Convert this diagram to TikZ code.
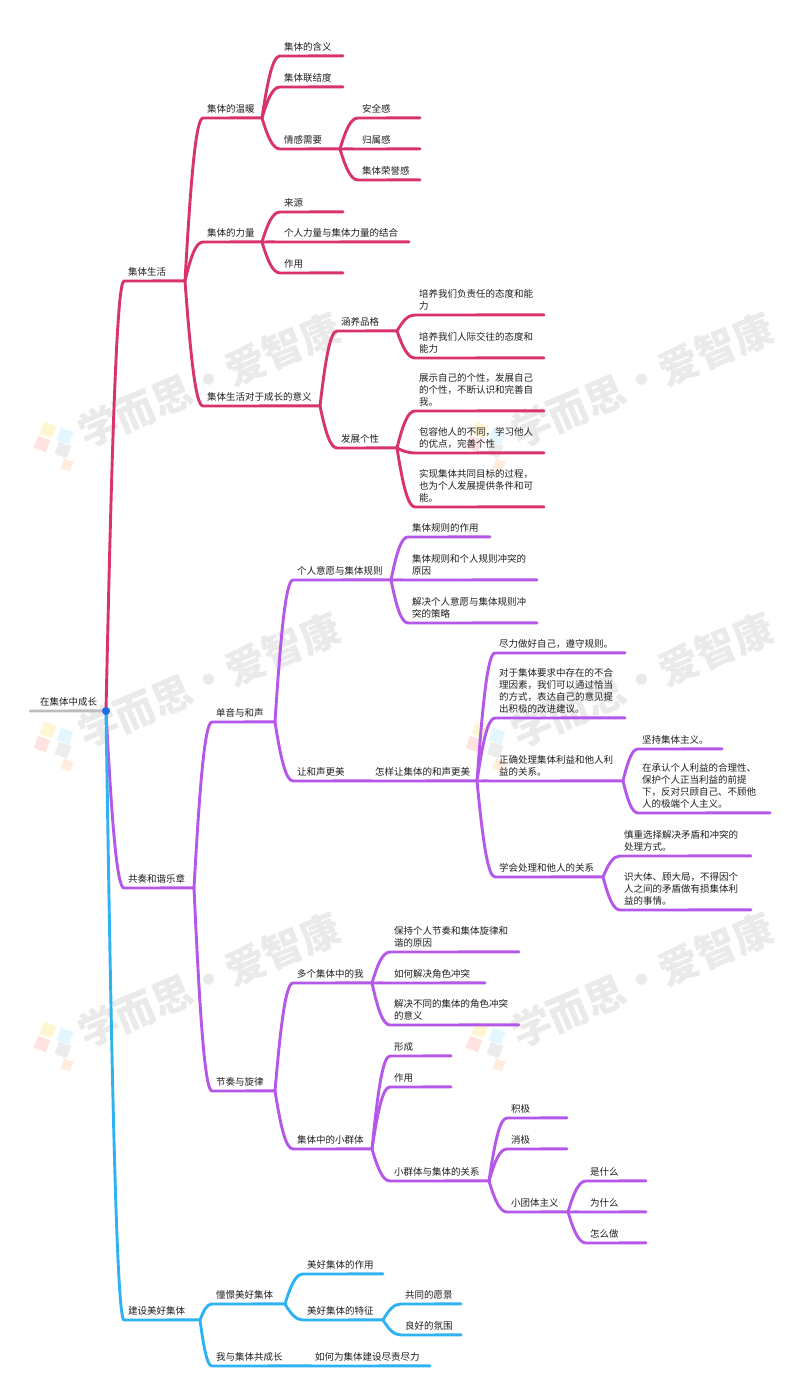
\documentclass[tikz,border=0pt]{standalone}
\usepackage{fontspec}
\setmainfont{Noto Sans CJK SC}
\usetikzlibrary{calc}
\lineskiplimit=-20pt
\normallineskiplimit=-20pt
\definecolor{redc}{HTML}{D8326F}
\definecolor{purc}{HTML}{B557E8}
\definecolor{bluc}{HTML}{2FB2F2}
\definecolor{rootc}{HTML}{BDBDBD}
\definecolor{dotc}{HTML}{1F6FE0}
\definecolor{wmc}{HTML}{EAEAEA}
\tikzset{
  lab/.style={inner xsep=4pt,inner ysep=4.5pt,outer sep=0pt,align=left,text=black!88,
    font=\fontsize{9.5}{12}\selectfont},
  cred/.style={color=redc,line width=2.9pt,line cap=round,line join=round},
  cpur/.style={color=purc,line width=2.9pt,line cap=round,line join=round},
  cblu/.style={color=bluc,line width=2.9pt,line cap=round,line join=round},
  cgry/.style={color=rootc,line width=2.9pt,line cap=round,line join=round},
  wm/.style={text=wmc,font=\fontsize{40}{40}\selectfont\bfseries,rotate=23,inner sep=0pt},
  sq/.style={rotate=-20,minimum size=13pt,inner sep=0pt,opacity=.18}
}
\newcommand\bn[7]{%
  \pgfmathsetmacro\bnw{#5-#4-8}%
  \node[lab,text width=\bnw pt,anchor=south west] (#3) at (#4,#6) {#7};
  \draw[#1] let \p1=(#2.south east),\p2=(#3.south west) in
    (\p1) .. controls ({\x1+.32*(\x2-\x1)},{\y1+.62*(\y2-\y1)+.1pt}) and ({\x1+.6*(\x2-\x1)},{\y2+.1pt}) .. (\p2) -- ($(#3.south east)+(0,.12pt)$);
}
\begin{document}
\begin{tikzpicture}[x=1pt,y=-1pt]
\useasboundingbox (0,0) rectangle (800,1398);
\fill[white] (0,0) rectangle (800,1398);
% watermarks
\foreach \cx/\lx in {209/48,642/480}{
  \foreach \cy/\ly in {380/430,680/730,980/1030}{
    \node[wm] (wm\cx\cy) at (\cx,\cy) {学而思·爱智康};
    \node[sq,fill=yellow!70!orange] (sa\cx\cy) at (\lx,\ly) {};
    \node[sq,fill=cyan!60] (sb\cx\cy) at (\lx+17,\ly+6) {};
    \node[sq,fill=red!60] (sc\cx\cy) at (\lx-6,\ly+14) {};
    \node[sq,fill=gray!80] (sd\cx\cy) at (\lx+15,\ly+20) {};
    \node[sq,fill=orange!80,minimum size=10pt] (se\cx\cy) at (\lx+19,\ly+35) {};
  }
}
% root
\node[lab,inner xsep=10pt,text width=56pt,anchor=south west] (root) at (30,711) {在集体中成长};
\draw[cgry] (root.south west) -- ($(root.south east)+(0,.12pt)$);
% level 1 purple first so that blue lies over it
\bn{cred}{root}{shjt}{124}{185}{281}{集体生活}
\bn{cpur}{root}{gzhx}{124}{194}{888}{共奏和谐乐章}
\bn{cblu}{root}{jsmh}{124}{200}{1320}{建设美好集体}
% red branch
\bn{cred}{shjt}{wn}{203}{262}{118}{集体的温暖}
\bn{cred}{wn}{hy}{280}{343}{56}{集体的含义}
\bn{cred}{wn}{ljd}{280}{343}{87}{集体联结度}
\bn{cred}{wn}{qg}{280}{340}{149}{情感需要}
\bn{cred}{qg}{aq}{358}{420}{118}{安全感}
\bn{cred}{qg}{gs}{358}{420}{149}{归属感}
\bn{cred}{qg}{ry}{358}{420}{180}{集体荣誉感}
\bn{cred}{shjt}{ll}{203}{262}{242}{集体的力量}
\bn{cred}{ll}{ly}{280}{343}{212}{来源}
\bn{cred}{ll}{gr}{280}{409}{242}{个人力量与集体力量的结合}
\bn{cred}{ll}{zy}{280}{343}{273}{作用}
\bn{cred}{shjt}{yy}{203}{320}{406}{集体生活对于成长的意义}
\bn{cred}{yy}{hy2}{337}{397}{331}{涵养品格}
\bn{cred}{yy}{fz}{337}{397}{448}{发展个性}
\bn{cred}{hy2}{py1}{415}{544}{315}{培养我们负责任的态度和能\\力}
\bn{cred}{hy2}{py2}{415}{544}{358}{培养我们人际交往的态度和\\能力}
\bn{cred}{fz}{zs}{415}{544}{411}{展示自己的个性，发展自己\\的个性，不断认识和完善自\\我。}
\bn{cred}{fz}{br}{415}{544}{453}{包容他人的不同，学习他人\\的优点，完善个性}
\bn{cred}{fz}{sx}{415}{544}{507}{实现集体共同目标的过程，\\也为个人发展提供条件和可\\能。}
% purple branch
\bn{cpur}{gzhx}{dy}{212}{275}{722}{单音与和声}
\bn{cpur}{dy}{yy2}{293}{391}{580}{个人意愿与集体规则}
\bn{cpur}{yy2}{gz1}{408}{490}{537}{集体规则的作用}
\bn{cpur}{yy2}{gz2}{408}{537}{580}{集体规则和个人规则冲突的\\原因}
\bn{cpur}{yy2}{gz3}{408}{537}{623}{解决个人意愿与集体规则冲\\突的策略}
\bn{cpur}{dy}{rh}{293}{371}{781}{让和声更美}
\bn{cpur}{rh}{zy2}{371}{477}{781}{怎样让集体的和声更美}
\bn{cpur}{zy2}{jl}{495}{625}{653}{尽力做好自己，遵守规则。}
\bn{cpur}{zy2}{dyu}{495}{625}{718}{对于集体要求中存在的不合\\理因素，我们可以通过恰当\\的方式，表达自己的意见提\\出积极的改进建议。}
\bn{cpur}{zy2}{zq}{495}{623}{781}{正确处理集体利益和他人利\\益的关系。}
\bn{cpur}{zq}{jc}{638}{722}{749}{坚持集体主义。}
\bn{cpur}{zq}{zc}{638}{770}{813}{在承认个人利益的合理性、\\保护个人正当利益的前提\\下，反对只顾自己、不顾他\\人的极端个人主义。}
\bn{cpur}{zy2}{xh}{495}{603}{877}{学会处理和他人的关系}
\bn{cpur}{xh}{sz}{620}{751}{856}{慎重选择解决矛盾和冲突的\\处理方式。}
\bn{cpur}{xh}{sd}{620}{751}{910}{识大体、顾大局，不得因个\\人之间的矛盾做有损集体利\\益的事情。}
\bn{cpur}{gzhx}{jz}{212}{275}{1091}{节奏与旋律}
\bn{cpur}{jz}{dg}{293}{372}{983}{多个集体中的我}
\bn{cpur}{dg}{bc}{390}{519}{952}{保持个人节奏和集体旋律和\\谐的原因}
\bn{cpur}{dg}{rh2}{390}{485}{983}{如何解决角色冲突}
\bn{cpur}{dg}{jj}{390}{519}{1025}{解决不同的集体的角色冲突\\的意义}
\bn{cpur}{jz}{xq}{293}{372}{1149}{集体中的小群体}
\bn{cpur}{xq}{xc}{390}{451}{1056}{形成}
\bn{cpur}{xq}{zy3}{390}{451}{1087}{作用}
\bn{cpur}{xq}{gx}{390}{489}{1181}{小群体与集体的关系}
\bn{cpur}{gx}{ji}{507}{567}{1118}{积极}
\bn{cpur}{gx}{xj}{507}{567}{1149}{消极}
\bn{cpur}{gx}{xt}{507}{568}{1212}{小团体主义}
\bn{cpur}{xt}{ss}{586}{646}{1181}{是什么}
\bn{cpur}{xt}{ws}{586}{646}{1212}{为什么}
\bn{cpur}{xt}{zm}{586}{646}{1243}{怎么做}
% blue branch
\bn{cblu}{jsmh}{cj}{212}{285}{1304}{憧憬美好集体}
\bn{cblu}{cj}{mh1}{303}{383}{1274}{美好集体的作用}
\bn{cblu}{cj}{mh2}{303}{383}{1320}{美好集体的特征}
\bn{cblu}{mh2}{gt}{401}{461}{1304}{共同的愿景}
\bn{cblu}{mh2}{lh}{401}{461}{1335}{良好的氛围}
\bn{cblu}{jsmh}{wy}{212}{311}{1366}{我与集体共成长}
\bn{cblu}{wy}{rw}{311}{430}{1366}{如何为集体建设尽责尽力}
% root dot
\node[circle,fill=dotc,minimum size=8pt,inner sep=0pt] (dot) at (root.south east) {};
\end{tikzpicture}
\end{document}
